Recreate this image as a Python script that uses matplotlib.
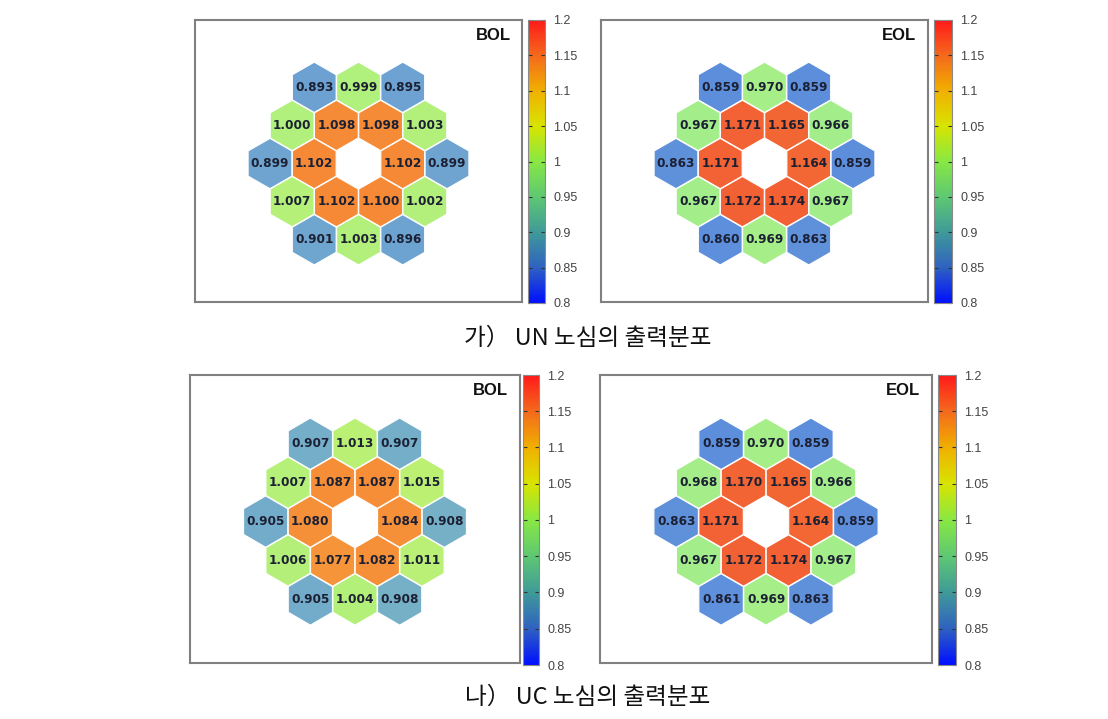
import matplotlib
matplotlib.use("Agg")
import matplotlib.pyplot as plt
import numpy as np
from matplotlib.patches import RegularPolygon
from matplotlib.collections import PatchCollection
from matplotlib.colors import LinearSegmentedColormap, Normalize
from matplotlib.cm import ScalarMappable

# assembly power values, read row by row (top to bottom, left to right), centre hole skipped
un_bol = [0.893, 0.999, 0.895,
          1.000, 1.098, 1.098, 1.003,
          0.899, 1.102, 1.102, 0.899,
          1.007, 1.102, 1.100, 1.002,
          0.901, 1.003, 0.896]
un_eol = [0.859, 0.970, 0.859,
          0.967, 1.171, 1.165, 0.966,
          0.863, 1.171, 1.164, 0.859,
          0.967, 1.172, 1.174, 0.967,
          0.860, 0.969, 0.863]
uc_bol = [0.907, 1.013, 0.907,
          1.007, 1.087, 1.087, 1.015,
          0.905, 1.080, 1.084, 0.908,
          1.006, 1.077, 1.082, 1.011,
          0.905, 1.004, 0.908]
uc_eol = [0.859, 0.970, 0.859,
          0.968, 1.170, 1.165, 0.966,
          0.863, 1.171, 1.164, 0.859,
          0.967, 1.172, 1.174, 0.967,
          0.861, 0.969, 0.863]

cbar_ticks = [0.8, 0.85, 0.9, 0.95, 1.0, 1.05, 1.1, 1.15, 1.2]
cbar_labels = ["0.8", "0.85", "0.9", "0.95", "1", "1.05", "1.1", "1.15", "1.2"]
captions = ["가） UN 노심의 출력분포", "나） UC 노심의 출력분포"]

vmin, vmax = 0.8, 1.2
norm = Normalize(vmin, vmax)

def stops(pairs):
    return [((v - vmin) / (vmax - vmin), c) for v, c in pairs]

# colour bar scale
bar_cmap = LinearSegmentedColormap.from_list("bar", stops([
    (0.80, "#0010ff"), (0.85, "#2f62c0"), (0.90, "#3f9a98"), (0.95, "#5ec872"),
    (1.00, "#88e844"), (1.05, "#d8e400"), (1.10, "#f0b000"), (1.15, "#f46a1c"),
    (1.20, "#ff1a1a")]))
# lighter tones used for the hexes themselves
hex_cmap = LinearSegmentedColormap.from_list("hex", stops([
    (0.80, "#4070e0"), (0.86, "#5e8fdc"), (0.90, "#6fa5d0"), (0.95, "#98e894"),
    (0.97, "#a6ee88"), (1.00, "#b0f07c"), (1.02, "#bff070"), (1.06, "#f5b040"),
    (1.08, "#f59038"), (1.10, "#f58a36"), (1.17, "#f26434"), (1.20, "#f04a30")]))

# hexagonal core of radius 2 (pointy-top), centre removed
R = 1.0
centres = []
for r in range(-2, 3):
    for q in range(max(-2, -2 - r), min(2, 2 - r) + 1):
        if q == 0 and r == 0:
            continue
        centres.append((np.sqrt(3) * R * (q + r / 2), -1.5 * R * r))

W, H = 1108, 719
fig = plt.figure(figsize=(W / 100, H / 100), dpi=100)

def box(x0, y0, x1, y1):
    return [x0 / W, 1 - y1 / H, (x1 - x0) / W, (y1 - y0) / H]

panels = [
    (un_bol, "BOL", box(195, 20, 522, 302), box(528, 20, 545, 303)),
    (un_eol, "EOL", box(601, 20, 928, 302), box(934, 20, 952, 303)),
    (uc_bol, "BOL", box(190, 375, 520, 663), box(523, 375, 539, 665)),
    (uc_eol, "EOL", box(600, 375, 932, 663), box(938, 375, 956, 665)),
]

for vals, tag, pos, cpos in panels:
    ax = fig.add_axes(pos)
    patches = [RegularPolygon(c, numVertices=6, radius=R * 0.99, orientation=0) for c in centres]
    pc = PatchCollection(patches, cmap=hex_cmap, norm=norm, edgecolor="white", linewidth=0.8)
    pc.set_array(np.array(vals))
    ax.add_collection(pc)
    for (x, y), v in zip(centres, vals):
        ax.text(x, y, f"{v:.3f}", ha="center", va="center", fontsize=8.7,
                fontweight="bold", color="#1c2033")
    ax.set_xlim(-6.4, 6.4)
    ax.set_ylim(-5.45, 5.65)
    ax.set_xticks([])
    ax.set_yticks([])
    for s in ax.spines.values():
        s.set_edgecolor("#808080")
        s.set_linewidth(1.5)
    ax.text(0.965, 0.945, tag, transform=ax.transAxes, ha="right", va="center",
            fontsize=12, fontweight="bold", family="Liberation Sans", color="#111111")

    cax = fig.add_axes(cpos)
    cb = fig.colorbar(ScalarMappable(norm=norm, cmap=bar_cmap), cax=cax, ticks=cbar_ticks)
    cb.ax.set_yticklabels(cbar_labels)
    cb.outline.set_edgecolor("#8a8a8a")
    cb.outline.set_linewidth(0.8)
    cax.tick_params(axis="y", direction="in", left=True, right=True, length=3,
                    width=0.8, color="#333333", labelcolor="#444444", labelsize=9, pad=6)
    for lab in cax.get_yticklabels():
        lab.set_family("Liberation Sans")

fig.text(588 / W, 1 - 338 / H, captions[0], ha="center", va="center", fontsize=17,
         family=["Noto Sans CJK KR", "DejaVu Sans"], color="#111111")
fig.text(588 / W, 1 - 697 / H, captions[1], ha="center", va="center", fontsize=17,
         family=["Noto Sans CJK KR", "DejaVu Sans"], color="#111111")

fig.savefig("out.png", dpi=100)
